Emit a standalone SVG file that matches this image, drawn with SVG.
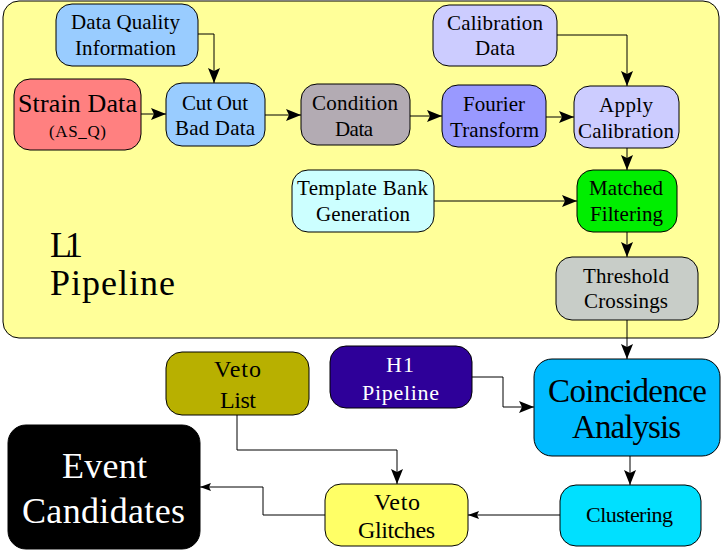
<svg xmlns="http://www.w3.org/2000/svg" width="723" height="551" viewBox="0 0 723 551">
<defs>
<marker id="ah" markerWidth="15" markerHeight="12" refX="15" refY="6" orient="auto" markerUnits="userSpaceOnUse">
<path d="M0,0 L15,6 L0,12 L3,6 Z" fill="#000"/>
</marker>
<marker id="ahs" markerWidth="11" markerHeight="8" refX="11" refY="4" orient="auto" markerUnits="userSpaceOnUse">
<path d="M0,0 L11,4 L0,8 L2,4 Z" fill="#000"/>
</marker>
</defs>
<style>
.n{stroke:#000;stroke-width:1}
text{font-family:"Liberation Serif","Times New Roman",serif;text-anchor:middle;fill:#000;font-size:21px}
.w{fill:#fff}
.c{fill:none;stroke:#000;stroke-width:1}
</style>
<rect x="0" y="0" width="723" height="551" fill="#fff"/>
<g id="l1-pipeline">
<rect class="n" x="3" y="1" width="716" height="337" rx="16" fill="#ffff99"/>
<text x="50" y="257" style="text-anchor:start;font-size:36px" textLength="33" lengthAdjust="spacing">L1</text>
<text x="50" y="295" style="text-anchor:start;font-size:36px" textLength="125" lengthAdjust="spacing">Pipeline</text>
</g>
<g id="data-quality">
<rect class="n" x="56" y="4" width="142" height="62" rx="16" fill="#99ccff"/>
<text x="125.5" y="29" textLength="109" lengthAdjust="spacing">Data Quality</text>
<text x="125.5" y="55" textLength="101" lengthAdjust="spacing">Information</text>
</g>
<g id="strain-data">
<rect class="n" x="14" y="79" width="127" height="71" rx="16" fill="#ff8080"/>
<text x="77.5" y="112" style="font-size:26px" textLength="119" lengthAdjust="spacing">Strain Data</text>
<text x="77.5" y="137" style="font-size:17px" textLength="57" lengthAdjust="spacing">(AS_Q)</text>
</g>
<g id="cut-out">
<rect class="n" x="166" y="83" width="99" height="63" rx="16" fill="#99ccff"/>
<text x="215" y="110" textLength="66" lengthAdjust="spacing">Cut Out</text>
<text x="215" y="135" textLength="80" lengthAdjust="spacing">Bad Data</text>
</g>
<g id="condition">
<rect class="n" x="301" y="84" width="109" height="61" rx="16" fill="#b3abb3"/>
<text x="355" y="110" textLength="86" lengthAdjust="spacing">Condition</text>
<text x="354" y="136" textLength="38" lengthAdjust="spacing">Data</text>
</g>
<g id="fourier">
<rect class="n" x="442" y="85" width="104" height="62" rx="16" fill="#9999ff"/>
<text x="494" y="111" textLength="62" lengthAdjust="spacing">Fourier</text>
<text x="494.5" y="137" textLength="89" lengthAdjust="spacing">Transform</text>
</g>
<g id="apply-cal">
<rect class="n" x="574" y="86" width="105" height="62" rx="16" fill="#ccccff"/>
<text x="626" y="112" textLength="54" lengthAdjust="spacing">Apply</text>
<text x="626" y="138" textLength="96" lengthAdjust="spacing">Calibration</text>
</g>
<g id="cal-data">
<rect class="n" x="433" y="5" width="124" height="61" rx="16" fill="#ccccff"/>
<text x="495" y="30" textLength="96" lengthAdjust="spacing">Calibration</text>
<text x="495" y="55" textLength="40" lengthAdjust="spacing">Data</text>
</g>
<g id="template-bank">
<rect class="n" x="292" y="170" width="142" height="62" rx="16" fill="#ccffff"/>
<text x="362.5" y="195" textLength="131" lengthAdjust="spacing">Template Bank</text>
<text x="363" y="221" textLength="94" lengthAdjust="spacing">Generation</text>
</g>
<g id="matched">
<rect class="n" x="577" y="170" width="100" height="62" rx="16" fill="#00ee00"/>
<text x="626" y="195" textLength="74" lengthAdjust="spacing">Matched</text>
<text x="626.5" y="221" textLength="73" lengthAdjust="spacing">Filtering</text>
</g>
<g id="threshold">
<rect class="n" x="556" y="257" width="142" height="63" rx="16" fill="#c8cdc8"/>
<text x="626" y="283" textLength="86" lengthAdjust="spacing">Threshold</text>
<text x="626" y="308" textLength="84" lengthAdjust="spacing">Crossings</text>
</g>
<g id="veto-list">
<rect class="n" x="166" y="352" width="143" height="63" rx="16" fill="#b8b000"/>
<text x="237.5" y="377" style="font-size:24px" textLength="47" lengthAdjust="spacing">Veto</text>
<text x="238" y="408" style="font-size:24px" textLength="36" lengthAdjust="spacing">List</text>
</g>
<g id="h1-pipeline">
<rect class="n" x="330" y="346" width="142" height="62" rx="16" fill="#2e0099"/>
<text class="w" x="400" y="372" style="font-size:22px" textLength="28" lengthAdjust="spacing">H1</text>
<text class="w" x="400.5" y="400" style="font-size:22px" textLength="77" lengthAdjust="spacing">Pipeline</text>
</g>
<g id="coincidence">
<rect class="n" x="534" y="359" width="186" height="97" rx="18" fill="#00bbff"/>
<text x="627.5" y="402" style="font-size:33px" textLength="159" lengthAdjust="spacing">Coincidence</text>
<text x="626.5" y="438" style="font-size:33px" textLength="109" lengthAdjust="spacing">Analysis</text>
</g>
<g id="clustering">
<rect class="n" x="560" y="485" width="141" height="61" rx="16" fill="#00e0ff"/>
<text x="629.5" y="522" style="font-size:22px" textLength="87" lengthAdjust="spacing">Clustering</text>
</g>
<g id="veto-glitches">
<rect class="n" x="325" y="484" width="143" height="62" rx="16" fill="#ffff66"/>
<text x="397" y="510" style="font-size:24px" textLength="46" lengthAdjust="spacing">Veto</text>
<text x="396.5" y="538" style="font-size:24px" textLength="77" lengthAdjust="spacing">Glitches</text>
</g>
<g id="event-candidates">
<rect class="n" x="8" y="425" width="192" height="124" rx="18" fill="#000"/>
<text class="w" x="104.5" y="478" style="font-size:36px" textLength="85" lengthAdjust="spacing">Event</text>
<text class="w" x="103.5" y="523" style="font-size:36px" textLength="163" lengthAdjust="spacing">Candidates</text>
</g>
<g id="connectors">
<path class="c" d="M198,34 H214 V83" marker-end="url(#ah)"/>
<path class="c" d="M141,114 H166" marker-end="url(#ah)"/>
<path class="c" d="M265,115 H301" marker-end="url(#ah)"/>
<path class="c" d="M410,116 H442" marker-end="url(#ah)"/>
<path class="c" d="M546,117 H574" marker-end="url(#ah)"/>
<path class="c" d="M557,35 H627 V86" marker-end="url(#ah)"/>
<path class="c" d="M627,148 V170" marker-end="url(#ah)"/>
<path class="c" d="M434,201 H577" marker-end="url(#ah)"/>
<path class="c" d="M627,232 V257" marker-end="url(#ah)"/>
<path class="c" d="M627,320 V359" marker-end="url(#ah)"/>
<path class="c" d="M472,377 H503 V407 H534" marker-end="url(#ah)"/>
<path class="c" d="M630,456 V485" marker-end="url(#ah)"/>
<path class="c" d="M560,515 H468" marker-end="url(#ahs)"/>
<path class="c" d="M237,415 V450 H397 V484" marker-end="url(#ah)"/>
<path class="c" d="M325,515 H263 V487 H200" marker-end="url(#ahs)"/>
</g>
</svg>
